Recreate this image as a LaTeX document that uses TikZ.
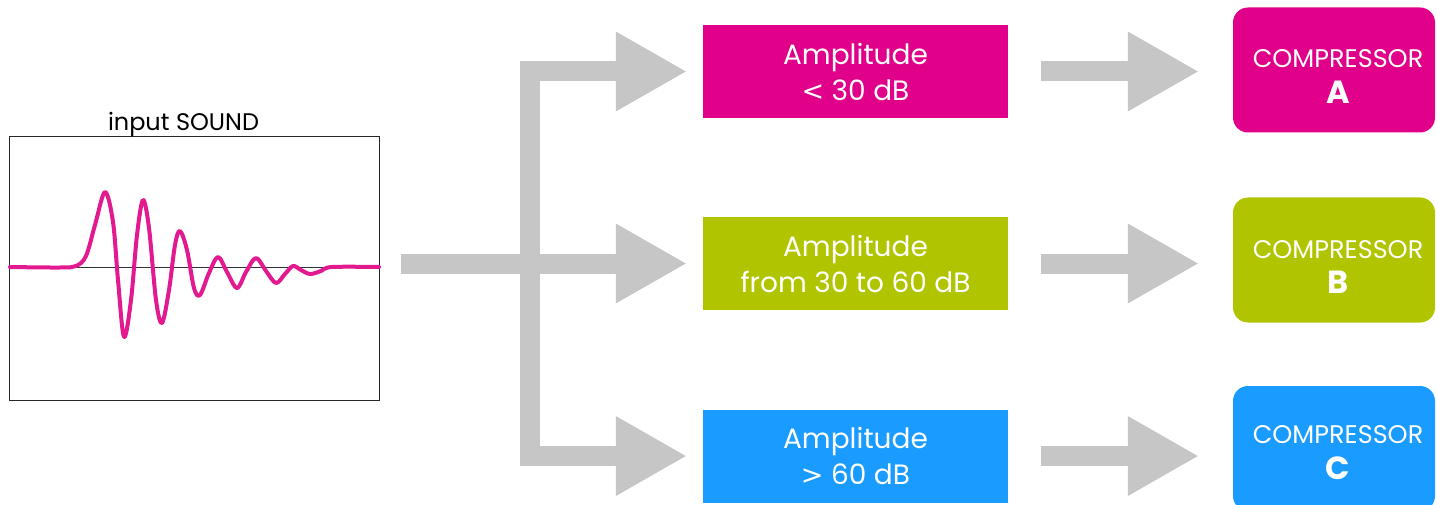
\documentclass[tikz,border=0pt]{standalone}
\usepackage{fontspec}
\setmainfont{Poppins}
\newfontfamily\relfont{DejaVu Sans}
\usetikzlibrary{arrows.meta,calc}

\definecolor{lowband}{HTML}{E0008A}
\definecolor{midband}{HTML}{B1C400}
\definecolor{highband}{HTML}{1A9BFF}
\definecolor{flow}{HTML}{C6C6C6}
\definecolor{signal}{HTML}{E3198F}

\newcommand{\lessrel}{{\relfont\fontsize{27}{36}\selectfont<}}
\newcommand{\morerel}{{\relfont\fontsize{27}{36}\selectfont>}}

\tikzset{
  bandbox/.style={rectangle, inner sep=0pt, minimum width=305pt, minimum height=93pt,
    text=white, align=center, font=\fontsize{28}{36}\selectfont},
  compbox/.style={rectangle, rounded corners=15pt, inner sep=0pt, minimum width=202pt,
    minimum height=125pt},
  compname/.style={anchor=base, inner sep=0pt, text=white, font=\fontsize{25.5}{30}\selectfont},
  completter/.style={anchor=base, inner sep=0pt, text=white, font=\fontsize{32}{36}\selectfont\bfseries},
  fattip/.tip={Triangle[length=70pt, width=80pt, line width=0pt]},
  fatflow/.style={draw=flow, line width=20pt, line cap=butt, line join=miter}
}

\begin{document}
\begin{tikzpicture}[x=1pt, y=-1pt]
\useasboundingbox (0,0) rectangle (1437,505);

% scope box of the incoming signal
\node[draw=black!85, line width=1.4pt, minimum width=370pt, minimum height=264pt,
      inner sep=0pt] (wave) at (194.5,268.5) {};
\node[font=\fontsize{24}{28}\selectfont, anchor=base, inner sep=0pt] (title) at (183.5,131) {input SOUND};
\draw[black!80, line width=1pt] (wave.west |- 0,267) -- (wave.east |- 0,267);
\draw[signal, line width=4pt, line join=round, line cap=round]
  plot[smooth, tension=0.55] coordinates {
   (10,267) (60,267.5) (76,266) (86,256) (95,225) (105,192) (113,222) (118,280)
   (124,337) (131,300) (137,235) (143,200) (149,228) (156,300) (162,323) (169,290)
   (175,245) (180,231) (187,250) (194,288) (200,295) (209,273) (218,257) (227,272)
   (237,288) (246,272) (256,258) (266,271) (276,283) (285,274) (293,266) (301,270)
   (310,274) (321,271) (332,267) (379,267)};

% amplitude bands
\node[bandbox, fill=lowband]  (amp1) at (855.5,71.5) {Amplitude\\\lessrel\ 30 dB};
\node[bandbox, fill=midband]  (amp2) at (855.5,263.5) {Amplitude\\from 30 to 60 dB};
\node[bandbox, fill=highband] (amp3) at (855.5,456) {Amplitude\\\morerel\ 60 dB};

% compressors
\node[compbox, fill=lowband]  (compA) at (1334,70) {};
\node[compbox, fill=midband]  (compB) at (1334,260) {};
\node[compbox, fill=highband] (compC) at (1334,448.5) {};
\node[compname]   (compAname) at ($(compA.center)+(4,-2)$) {COMPRESSOR};
\node[completter] (compAid)   at ($(compA.center)+(4,34)$) {A};
\node[compname]   (compBname) at ($(compB.center)+(4,-2)$) {COMPRESSOR};
\node[completter] (compBid)   at ($(compB.center)+(4,33)$) {B};
\node[compname]   (compCname) at ($(compC.center)+(4,-5)$) {COMPRESSOR};
\node[completter] (compCid)   at ($(compC.center)+(4,31)$) {C};

% splitter
\coordinate (tip1) at ($(amp1.west)+(-17,0)$);
\coordinate (tip2) at ($(amp2.west)+(-17,0)$);
\coordinate (tip3) at ($(amp3.west)+(-17,0)$);
\coordinate (trunk) at (530,0);
\coordinate (feed) at ($(wave.east |- amp2.west)+(21,0)$);
\draw[fatflow, fattip-fattip] (tip1) -| (trunk |- tip3) -- (tip3);
\draw[fatflow, -fattip] (feed) -- (tip2);

% band to compressor
\draw[fatflow, -fattip] ($(amp1.east)+(33,0)$) -- ($(compA.west |- amp1.east)+(-35,0)$);
\draw[fatflow, -fattip] ($(amp2.east)+(33,0)$) -- ($(compB.west |- amp2.east)+(-35,0)$);
\draw[fatflow, -fattip] ($(amp3.east)+(33,0)$) -- ($(compC.west |- amp3.east)+(-35,0)$);
\end{tikzpicture}
\end{document}
